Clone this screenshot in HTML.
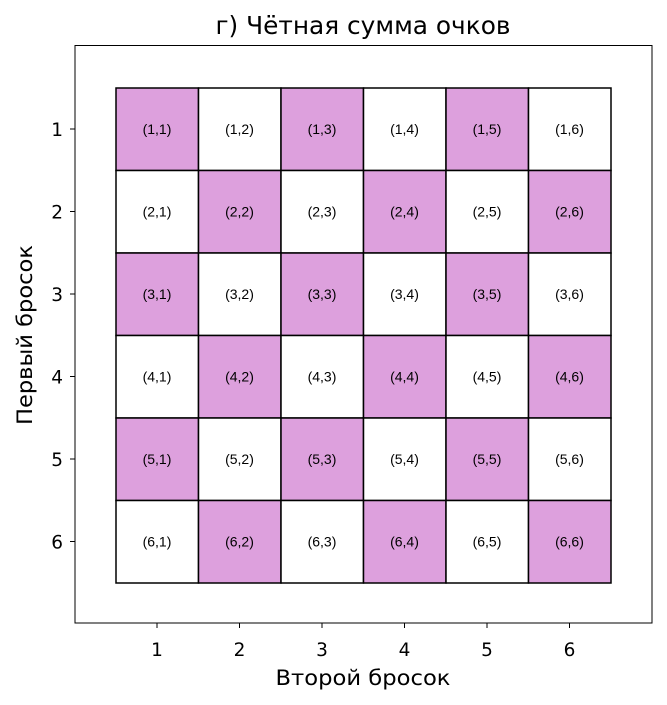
<!DOCTYPE html>
<html><head><meta charset="utf-8"><style>body{margin:0;background:#fff}svg{display:block}</style></head>
<body>
<svg width="667" height="705" xmlns="http://www.w3.org/2000/svg" font-family="'DejaVu Sans','Liberation Sans',sans-serif">
<rect x="75" y="45.5" width="577" height="577.5" fill="none" stroke="#000" stroke-width="1"/>
<text x="363" y="34" font-size="24.5" text-anchor="middle" textLength="295" lengthAdjust="spacingAndGlyphs">г) Чётная сумма очков</text>
<text x="363" y="685" font-size="21.5" text-anchor="middle" textLength="175" lengthAdjust="spacingAndGlyphs">Второй бросок</text>
<text transform="translate(32,335) rotate(-90)" font-size="21.5" text-anchor="middle" textLength="180" lengthAdjust="spacingAndGlyphs">Первый бросок</text>
<g font-size="18.5" text-anchor="middle">
<text x="157" y="656">1</text><text x="239.5" y="656">2</text><text x="322" y="656">3</text><text x="404.5" y="656">4</text><text x="487" y="656">5</text><text x="569.5" y="656">6</text>
</g>
<g font-size="18.5" text-anchor="end">
<text x="63" y="136">1</text><text x="63" y="218.5">2</text><text x="63" y="301">3</text><text x="63" y="383.5">4</text><text x="63" y="466">5</text><text x="63" y="548.5">6</text>
</g>
<g stroke="#000" stroke-width="1">
<line x1="75" y1="129" x2="70" y2="129"/><line x1="75" y1="211.5" x2="70" y2="211.5"/><line x1="75" y1="294" x2="70" y2="294"/><line x1="75" y1="376.5" x2="70" y2="376.5"/><line x1="75" y1="459" x2="70" y2="459"/><line x1="75" y1="541.5" x2="70" y2="541.5"/>
<line x1="157" y1="623" x2="157" y2="628"/><line x1="239.5" y1="623" x2="239.5" y2="628"/><line x1="322" y1="623" x2="322" y2="628"/><line x1="404.5" y1="623" x2="404.5" y2="628"/><line x1="487" y1="623" x2="487" y2="628"/><line x1="569.5" y1="623" x2="569.5" y2="628"/>
</g>
<g stroke="#000" stroke-width="1.5">
<rect x="116" y="88" width="82.5" height="82.5" fill="#dda0dd"/><rect x="198.5" y="88" width="82.5" height="82.5" fill="#fff"/><rect x="281" y="88" width="82.5" height="82.5" fill="#dda0dd"/><rect x="363.5" y="88" width="82.5" height="82.5" fill="#fff"/><rect x="446" y="88" width="82.5" height="82.5" fill="#dda0dd"/><rect x="528.5" y="88" width="82.5" height="82.5" fill="#fff"/>
<rect x="116" y="170.5" width="82.5" height="82.5" fill="#fff"/><rect x="198.5" y="170.5" width="82.5" height="82.5" fill="#dda0dd"/><rect x="281" y="170.5" width="82.5" height="82.5" fill="#fff"/><rect x="363.5" y="170.5" width="82.5" height="82.5" fill="#dda0dd"/><rect x="446" y="170.5" width="82.5" height="82.5" fill="#fff"/><rect x="528.5" y="170.5" width="82.5" height="82.5" fill="#dda0dd"/>
<rect x="116" y="253" width="82.5" height="82.5" fill="#dda0dd"/><rect x="198.5" y="253" width="82.5" height="82.5" fill="#fff"/><rect x="281" y="253" width="82.5" height="82.5" fill="#dda0dd"/><rect x="363.5" y="253" width="82.5" height="82.5" fill="#fff"/><rect x="446" y="253" width="82.5" height="82.5" fill="#dda0dd"/><rect x="528.5" y="253" width="82.5" height="82.5" fill="#fff"/>
<rect x="116" y="335.5" width="82.5" height="82.5" fill="#fff"/><rect x="198.5" y="335.5" width="82.5" height="82.5" fill="#dda0dd"/><rect x="281" y="335.5" width="82.5" height="82.5" fill="#fff"/><rect x="363.5" y="335.5" width="82.5" height="82.5" fill="#dda0dd"/><rect x="446" y="335.5" width="82.5" height="82.5" fill="#fff"/><rect x="528.5" y="335.5" width="82.5" height="82.5" fill="#dda0dd"/>
<rect x="116" y="418" width="82.5" height="82.5" fill="#dda0dd"/><rect x="198.5" y="418" width="82.5" height="82.5" fill="#fff"/><rect x="281" y="418" width="82.5" height="82.5" fill="#dda0dd"/><rect x="363.5" y="418" width="82.5" height="82.5" fill="#fff"/><rect x="446" y="418" width="82.5" height="82.5" fill="#dda0dd"/><rect x="528.5" y="418" width="82.5" height="82.5" fill="#fff"/>
<rect x="116" y="500.5" width="82.5" height="82.5" fill="#fff"/><rect x="198.5" y="500.5" width="82.5" height="82.5" fill="#dda0dd"/><rect x="281" y="500.5" width="82.5" height="82.5" fill="#fff"/><rect x="363.5" y="500.5" width="82.5" height="82.5" fill="#dda0dd"/><rect x="446" y="500.5" width="82.5" height="82.5" fill="#fff"/><rect x="528.5" y="500.5" width="82.5" height="82.5" fill="#dda0dd"/>
</g>
<g font-size="14" text-anchor="middle" font-family="'Liberation Sans Narrow','Liberation Sans',sans-serif">
<text x="157" y="134">(1,1)</text><text x="239.5" y="134">(1,2)</text><text x="322" y="134">(1,3)</text><text x="404.5" y="134">(1,4)</text><text x="487" y="134">(1,5)</text><text x="569.5" y="134">(1,6)</text>
<text x="157" y="216.5">(2,1)</text><text x="239.5" y="216.5">(2,2)</text><text x="322" y="216.5">(2,3)</text><text x="404.5" y="216.5">(2,4)</text><text x="487" y="216.5">(2,5)</text><text x="569.5" y="216.5">(2,6)</text>
<text x="157" y="299">(3,1)</text><text x="239.5" y="299">(3,2)</text><text x="322" y="299">(3,3)</text><text x="404.5" y="299">(3,4)</text><text x="487" y="299">(3,5)</text><text x="569.5" y="299">(3,6)</text>
<text x="157" y="381.5">(4,1)</text><text x="239.5" y="381.5">(4,2)</text><text x="322" y="381.5">(4,3)</text><text x="404.5" y="381.5">(4,4)</text><text x="487" y="381.5">(4,5)</text><text x="569.5" y="381.5">(4,6)</text>
<text x="157" y="464">(5,1)</text><text x="239.5" y="464">(5,2)</text><text x="322" y="464">(5,3)</text><text x="404.5" y="464">(5,4)</text><text x="487" y="464">(5,5)</text><text x="569.5" y="464">(5,6)</text>
<text x="157" y="546.5">(6,1)</text><text x="239.5" y="546.5">(6,2)</text><text x="322" y="546.5">(6,3)</text><text x="404.5" y="546.5">(6,4)</text><text x="487" y="546.5">(6,5)</text><text x="569.5" y="546.5">(6,6)</text>
</g>
</svg>
</body></html>
